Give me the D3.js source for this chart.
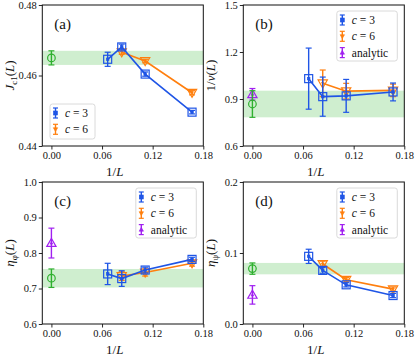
<!DOCTYPE html>
<html><head><meta charset="utf-8">
<script src="https://cdn.jsdelivr.net/npm/d3@7"></script>
<style>body{margin:0;background:#fff}svg{display:block}text{font-family:"Liberation Serif","Times New Roman",serif}</style>
</head><body>
<svg id="chart" width="415" height="358"></svg>
<script>
// ---------- data ----------
const invL3 = [1/15, 1/12, 1/9, 1/6];
const invL6 = [1/12, 1/9, 1/6];
const xTicks = [0, 0.06, 0.12, 0.18];

// (a) J_c1
const jc3 = [0.4646, 0.4681, 0.4604, 0.4496];
const jc3Err = [0.002, 0.0008, 0.0006, 0.0005];
const jc6 = [0.4666, 0.4641, 0.4551];
const jc6Err = [0.0006, 0.0005, 0.0006];
const jcFit = [0.465, 0.002];
const jcTicks = [0.44, 0.46, 0.48];

// (b) 1/nu
const nu3 = [1.03, 0.915, 0.92, 0.945];
const nu3Err = [0.195, 0.125, 0.105, 0.057];
const nu6 = [1.0, 0.95, 0.955];
const nu6Err = [0.085, 0.05, 0.04];
const nuFit = [0.868, 0.085];
const nuAnalytic = [0.93, 0.037];
const nuTicks = [0.6, 0.9, 1.2, 1.5];

// (c) eta_phi
const ephi3 = [0.741, 0.728, 0.752, 0.782];
const ephi3Err = [0.03, 0.022, 0.008, 0.006];
const ephi6 = [0.735, 0.745, 0.771];
const ephi6Err = [0.012, 0.01, 0.008];
const ephiFit = [0.729, 0.026];
const ephiAnalytic = [0.828, 0.042];
const ephiTicks = [0.6, 0.7, 0.8, 0.9, 1.0];

// (d) eta_psi
const epsi3 = [0.0953, 0.0755, 0.0552, 0.0401];
const epsi3Err = [0.01, 0.004, 0.003, 0.003];
const epsi6 = [0.0845, 0.0623, 0.0491];
const epsi6Err = [0.004, 0.003, 0.003];
const epsiFit = [0.078, 0.008];
const epsiAnalytic = [0.041, 0.013];
const epsiTicks = [0.0, 0.1, 0.2];

const BLUE = "#1f55e6", ORANGE = "#ff7f0e", GREEN = "#2fb02f", PURPLE = "#a020f0";

const panels = [
  {label:"(a)", box:[42.3,5,161,141], ydom:[0.44,0.48], yticks:jcTicks, yfmt:2,
   ylab:[["J","i"],["c1","sub"],["(","n"],["L","i"],[")","n"]],
   c3:jc3, c3e:jc3Err, c6:jc6, c6e:jc6Err, fit:jcFit, an:null, legend:"bl"},
  {label:"(b)", box:[243.3,5,161,141], ydom:[0.6,1.5], yticks:nuTicks, yfmt:1,
   ylab:[["1/","n"],["ν","i"],["(","n"],["L","i"],[")","n"]],
   c3:nu3, c3e:nu3Err, c6:nu6, c6e:nu6Err, fit:nuFit, an:nuAnalytic, legend:"tr"},
  {label:"(c)", box:[42.3,182,161,142], ydom:[0.6,1.0], yticks:ephiTicks, yfmt:1,
   ylab:[["η","i"],["φ","sub"],["(","n"],["L","i"],[")","n"]],
   c3:ephi3, c3e:ephi3Err, c6:ephi6, c6e:ephi6Err, fit:ephiFit, an:ephiAnalytic, legend:"tr"},
  {label:"(d)", box:[243.3,182,161,142], ydom:[0.0,0.2], yticks:epsiTicks, yfmt:1,
   ylab:[["η","i"],["ψ","sub"],["(","n"],["L","i"],[")","n"]],
   c3:epsi3, c3e:epsi3Err, c6:epsi6, c6e:epsi6Err, fit:epsiFit, an:epsiAnalytic, legend:"tr"}
];

const svg = d3.select("#chart");

function marker(g, shape, cx, cy, r, color, filled) {
  let el;
  if (shape === "square") {
    el = g.append("rect").attr("x", cx - r).attr("y", cy - r).attr("width", 2*r).attr("height", 2*r);
  } else if (shape === "circle") {
    el = g.append("circle").attr("cx", cx).attr("cy", cy).attr("r", r);
  } else if (shape === "tdown") {
    el = g.append("path").attr("d", `M${cx-r*1.1},${cy-r*0.8}L${cx+r*1.1},${cy-r*0.8}L${cx},${cy+r*1.1}Z`);
  } else {
    el = g.append("path").attr("d", `M${cx-r*1.1},${cy+r*0.8}L${cx+r*1.1},${cy+r*0.8}L${cx},${cy-r*1.1}Z`);
  }
  el.attr("fill", filled ? color : "none").attr("stroke", color).attr("stroke-width", filled ? 0.6 : 1.2);
}

function errbar(g, cx, y1, y2, color, cap) {
  g.append("line").attr("x1", cx).attr("x2", cx).attr("y1", y1).attr("y2", y2)
    .attr("stroke", color).attr("stroke-width", 1.4);
  [y1, y2].forEach(y => g.append("line").attr("x1", cx - cap).attr("x2", cx + cap)
    .attr("y1", y).attr("y2", y).attr("stroke", color).attr("stroke-width", 1.2));
}

function series(g, x, y, xs, ys, es, color, shape, big, line) {
  if (line) {
    g.append("path").datum(xs.map((v, i) => [v, ys[i]]))
      .attr("d", d3.line().x(d => x(d[0])).y(d => y(d[1])))
      .attr("fill", "none").attr("stroke", color).attr("stroke-width", 1.6);
  }
  xs.forEach((v, i) => {
    errbar(g, x(v), y(ys[i] - es[i]), y(ys[i] + es[i]), color, 3);
    marker(g, shape, x(v), y(ys[i]), 1.3, color, true);
    marker(g, shape, x(v), y(ys[i]), big, color, false);
  });
}

panels.forEach(p => {
  const [bx, by, bw, bh] = p.box;
  const x = d3.scaleLinear().domain([-0.0108, 0.18]).range([bx, bx + bw]);
  const y = d3.scaleLinear().domain(p.ydom).range([by + bh, by]);
  const g = svg.append("g");

  // band
  g.append("rect").attr("x", bx).attr("width", bw)
    .attr("y", y(p.fit[0] + p.fit[1])).attr("height", y(p.fit[0] - p.fit[1]) - y(p.fit[0] + p.fit[1]))
    .attr("fill", "#4cc04c").attr("opacity", 0.27);

  // axes
  const xa = g.append("g").attr("transform", `translate(0,${by + bh})`)
    .call(d3.axisBottom(x).tickValues(xTicks).tickFormat(d => d.toFixed(2)).tickSizeOuter(0).tickSize(3.5).tickPadding(2.5));
  const ya = g.append("g").attr("transform", `translate(${bx},0)`)
    .call(d3.axisLeft(y).tickValues(p.yticks).tickFormat(d => d.toFixed(p.yfmt)).tickSizeOuter(0).tickSize(3.5).tickPadding(2));
  [xa, ya].forEach(a => {
    a.select(".domain").remove();
    a.selectAll("text").attr("font-size", 10.5).attr("fill", "#111").style("font-family", '"Liberation Serif",serif');
    a.selectAll("line").attr("stroke", "#111").attr("stroke-width", 0.9);
  });

  // frame
  g.append("rect").attr("x", bx).attr("y", by).attr("width", bw).attr("height", bh)
    .attr("fill", "none").attr("stroke", "#111").attr("stroke-width", 1);

  // fitted extrapolation (green) and analytic (purple)
  const dg = g.append("g");
  if (p.an) {
    errbar(dg, x(0), y(p.an[0] - p.an[1]), y(p.an[0] + p.an[1]), PURPLE, 3);
    marker(dg, "tup", x(0), y(p.an[0]), 1.3, PURPLE, true);
    marker(dg, "tup", x(0), y(p.an[0]), 4.2, PURPLE, false);
  }
  errbar(dg, x(0), y(p.fit[0] - p.fit[1]), y(p.fit[0] + p.fit[1]), GREEN, 3);
  marker(dg, "circle", x(0), y(p.fit[0]), 3.8, GREEN, false);

  series(dg, x, y, invL6, p.c6, p.c6e, ORANGE, "tdown", 4.2, true);
  series(dg, x, y, invL3, p.c3, p.c3e, BLUE, "square", 4, true);

  // panel label
  g.append("text").attr("x", bx + 12).attr("y", by + 24).attr("font-size", 15).attr("fill", "#111").text(p.label);

  // x label
  const xl = g.append("text").attr("x", bx + bw / 2 - 8).attr("y", by + bh + 30)
    .attr("text-anchor", "middle").attr("font-size", 13).attr("fill", "#111");
  xl.append("tspan").text("1/");
  xl.append("tspan").attr("font-style", "italic").text("L");

  // y label
  const yl = g.append("text").attr("transform", `translate(${bx - 28},${by + bh / 2}) rotate(-90)`)
    .attr("text-anchor", "middle").attr("font-size", 13).attr("fill", "#111");
  p.ylab.forEach(([t, s], i) => {
    const ts = yl.append("tspan").text(t);
    if (s === "i") ts.attr("font-style", "italic");
    if (s === "sub") ts.attr("font-size", 9).attr("dy", 2.5);
    if (i > 0 && p.ylab[i - 1][1] === "sub") ts.attr("dy", -2.5);
  });

  // legend
  const entries = [[BLUE, "square", "3"], [ORANGE, "tdown", "6"]];
  if (p.an) entries.push([PURPLE, "tup", null]);
  const lw = p.an ? 60.5 : 45, lh = p.an ? 50 : 35;
  const lx = p.legend === "bl" ? bx + 7.7 : bx + bw - 7 - lw;
  const ly = p.legend === "bl" ? by + bh - 7 - lh : by + 6;
  const lg = g.append("g");
  lg.append("rect").attr("x", lx).attr("y", ly).attr("width", lw).attr("height", lh).attr("rx", 2.5)
    .attr("fill", "#fff").attr("fill-opacity", 0.85).attr("stroke", "#d0d0d0").attr("stroke-width", 0.8);
  entries.forEach(([col, shp, val], i) => {
    const cy = ly + 9 + i * 16.3;
    errbar(lg, lx + 5.5, cy - 5, cy + 5, col, 2.5);
    marker(lg, shp, lx + 5.5, cy, 2, col, true);
    const t = lg.append("text").attr("x", lx + 15).attr("y", cy + 4).attr("font-size", 11.5).attr("fill", "#111");
    if (val) {
      t.append("tspan").attr("font-style", "italic").text("c");
      t.append("tspan").text(" = " + val);
    } else t.text("analytic");
  });
});
</script>
</body></html>
